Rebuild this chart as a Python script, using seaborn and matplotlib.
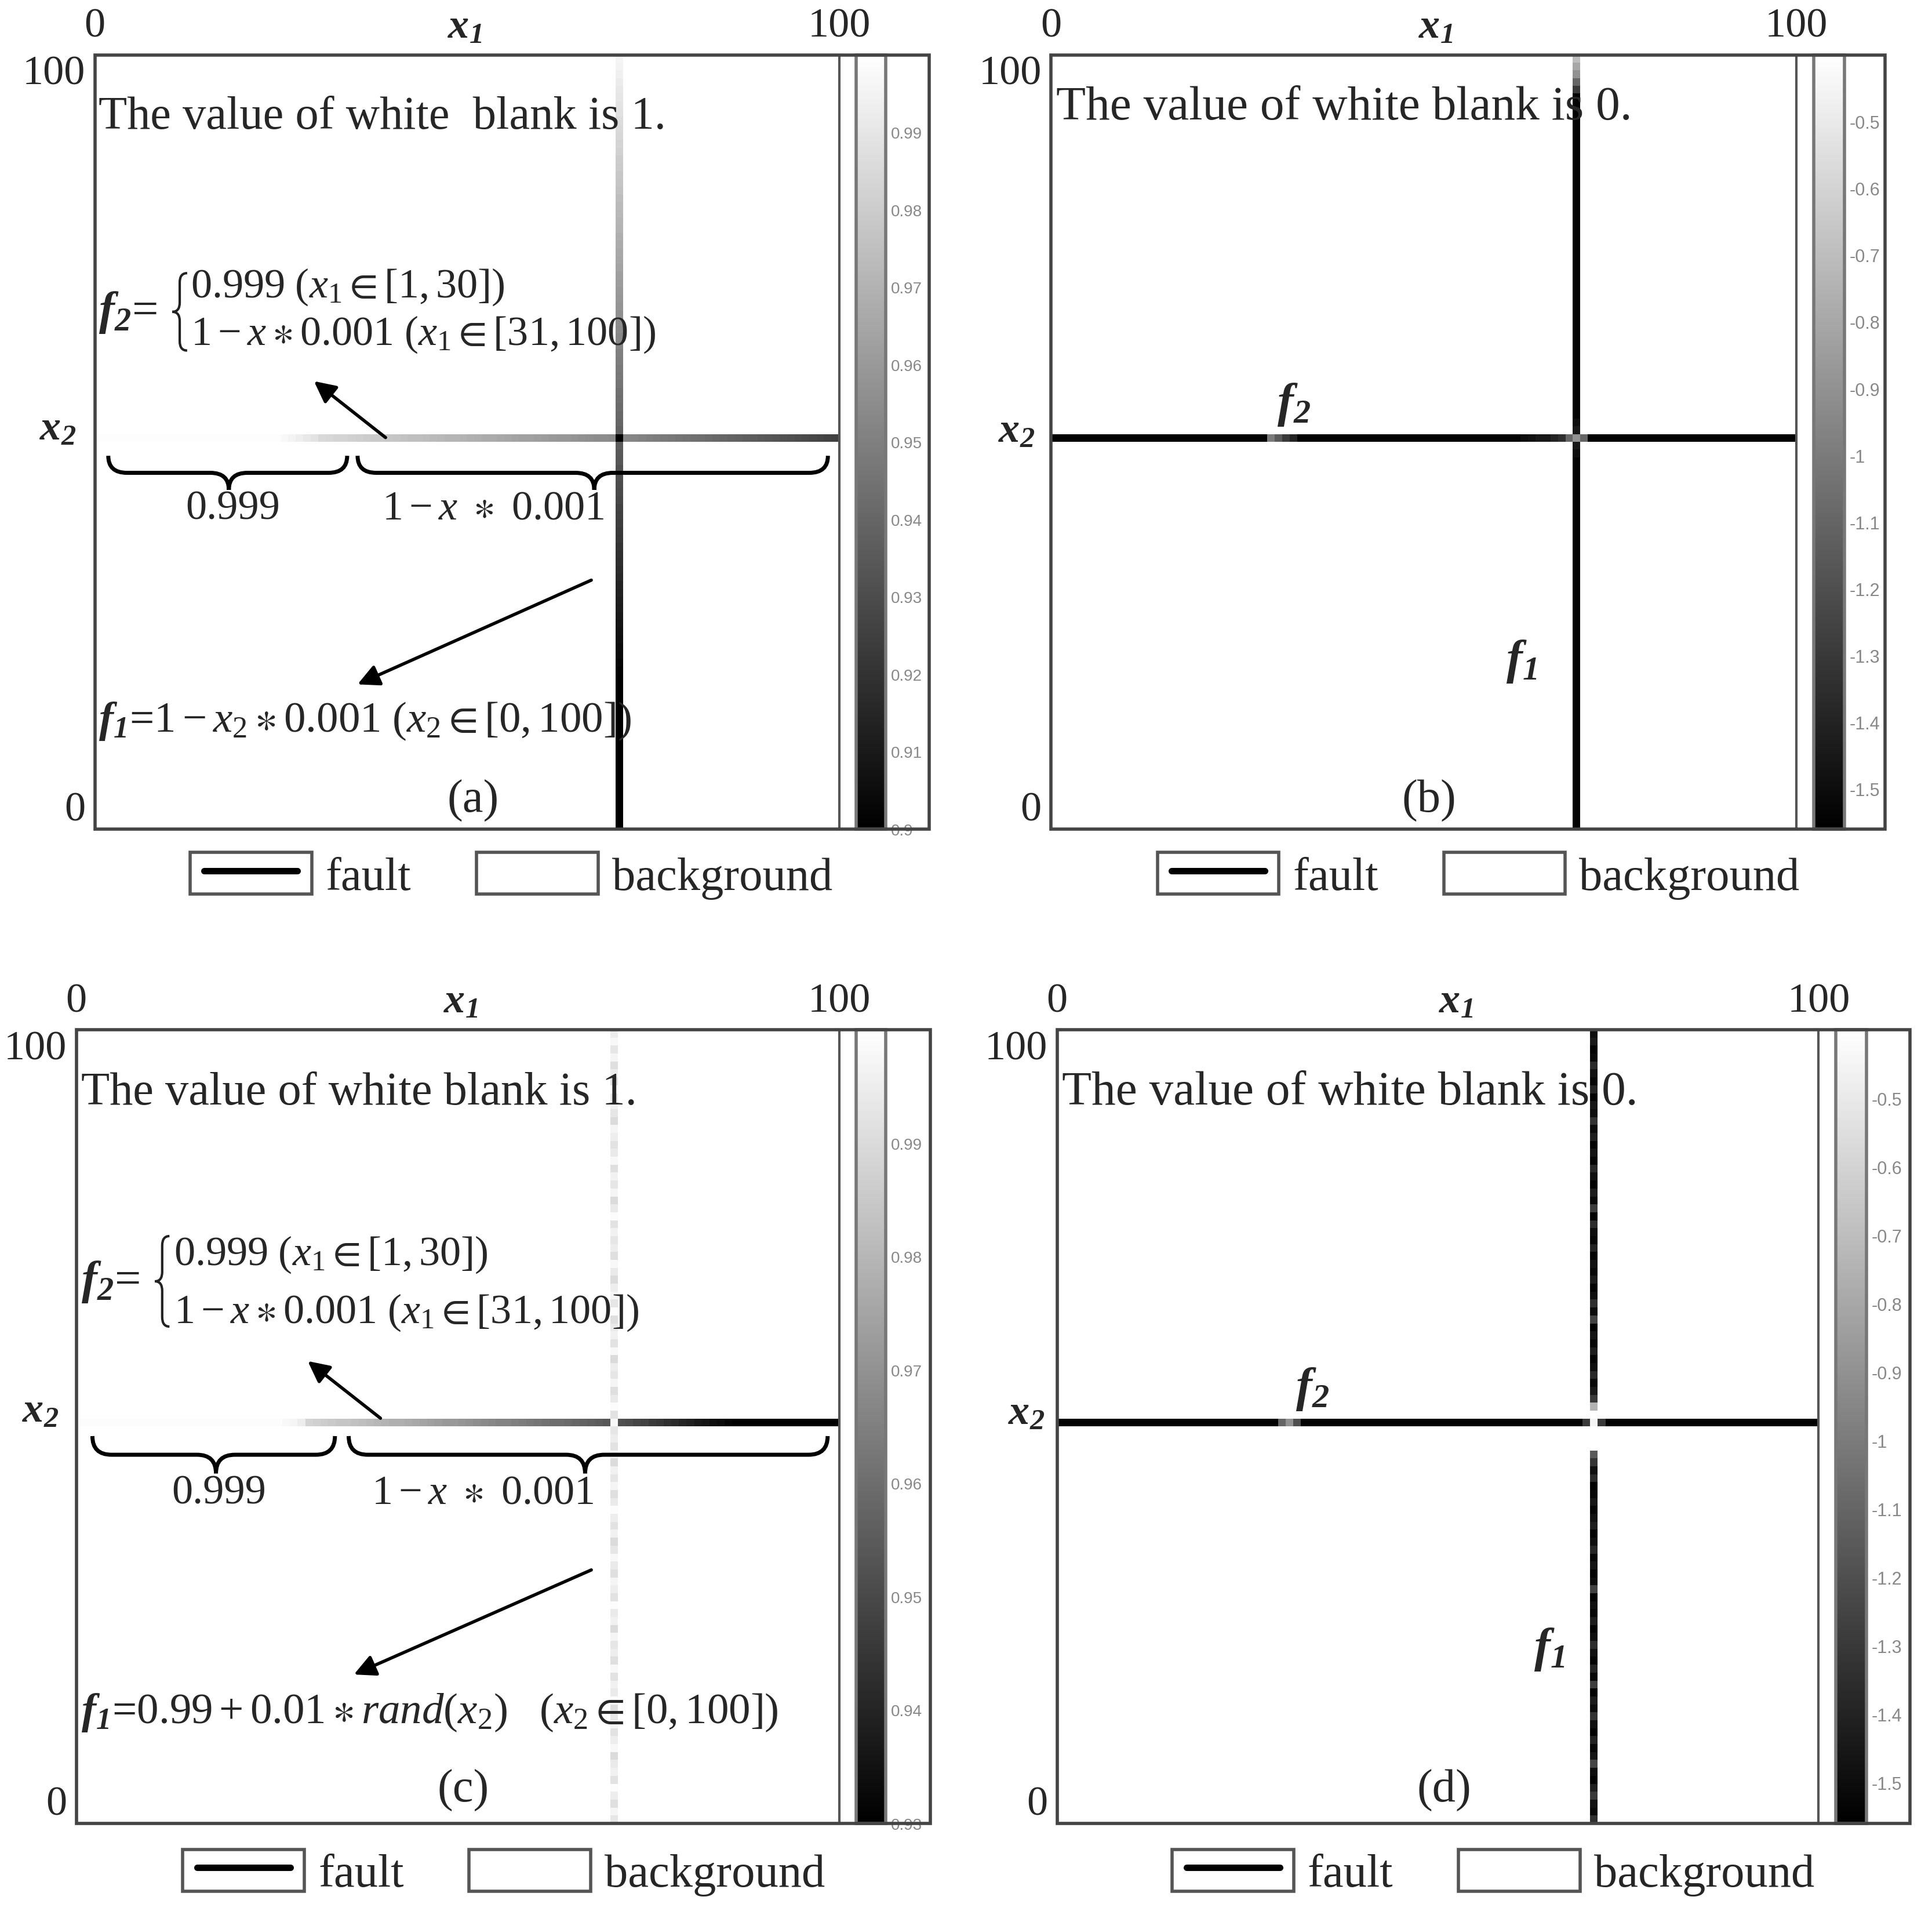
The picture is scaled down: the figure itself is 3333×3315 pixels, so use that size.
import numpy as np
import pandas as pd
import seaborn as sns
import matplotlib.pyplot as plt
from matplotlib.patches import Rectangle, PathPatch
from matplotlib.path import Path
from matplotlib.lines import Line2D
from matplotlib.ticker import FormatStrFormatter

# ---- data ----
n_cells = 100
fault_col = 70   # x1 where the vertical fault f1 runs
fault_row = 50   # x2 where the horizontal fault f2 runs

# (a) white blank = 1
a_f1 = [0.900] * 20 + [
    0.901, 0.902, 0.904, 0.905, 0.906, 0.907, 0.908, 0.910, 0.911, 0.912,
    0.913, 0.914, 0.916, 0.917, 0.918, 0.919, 0.920, 0.922, 0.923, 0.924,
    0.925, 0.926, 0.928, 0.929, 0.930, 0.931, 0.932, 0.934, 0.935, 0.936,
    0.937, 0.938, 0.940, 0.941, 0.942, 0.943, 0.944, 0.946, 0.947, 0.948,
    0.949, 0.950, 0.952, 0.953, 0.954, 0.955, 0.956, 0.958, 0.959, 0.960,
    0.961, 0.962, 0.964, 0.965, 0.966, 0.967, 0.968, 0.970, 0.971, 0.972,
    0.973, 0.974, 0.976, 0.977, 0.978, 0.979, 0.980, 0.982, 0.983, 0.984,
    0.985, 0.986, 0.988, 0.989, 0.990, 0.991, 0.992, 0.994, 0.995, 0.996]
a_f2 = [0.999] * 25 + [0.997, 0.995, 0.993, 0.991, 0.989] + [
    0.985, 0.984, 0.983, 0.983, 0.982, 0.981, 0.980, 0.979, 0.979, 0.978,
    0.977, 0.976, 0.975, 0.975, 0.974, 0.973, 0.972, 0.971, 0.971, 0.970,
    0.969, 0.968, 0.967, 0.967, 0.966, 0.965, 0.964, 0.963, 0.963, 0.962,
    0.961, 0.960, 0.959, 0.959, 0.958, 0.957, 0.956, 0.955, 0.955, 0.954,
    0.900, 0.953, 0.952, 0.951, 0.950, 0.949, 0.948, 0.947, 0.946, 0.945,
    0.944, 0.943, 0.942, 0.941, 0.940, 0.939, 0.938, 0.937, 0.936, 0.935,
    0.934, 0.933, 0.932, 0.931, 0.930, 0.929, 0.928, 0.927, 0.926, 0.925]

# (b) white blank = 0
b_f1 = [-1.55] * 48 + [-1.50, -1.45, -1.55, -1.45, -1.50] + [-1.55] * 42 + [-1.30, -1.10, -0.90, -0.80, -0.70]
b_f2 = [-1.55] * 29 + [-1.00, -1.15, -1.30, -1.40] + [-1.55] * 30 + [
    -1.50, -1.48, -1.45, -1.45, -1.40, -1.35, -1.10, -0.90, -1.10] + [-1.55] * 28

# (c) white blank = 1, f1 random in [0.99, 1]
c_f1 = [
    0.993, 0.997, 0.991, 0.995, 0.999, 0.992, 0.996, 0.994, 0.990, 0.998,
    0.995, 0.992, 0.997, 0.993, 0.991, 0.999, 0.994, 0.996, 0.992, 0.998,
    0.991, 0.995, 0.993, 0.997, 0.990, 0.996, 0.994, 0.999, 0.992, 0.995,
    0.997, 0.991, 0.994, 0.998, 0.993, 0.990, 0.996, 0.992, 0.995, 0.999,
    0.994, 0.991, 0.997, 0.993, 0.996, 0.990, 0.998, 0.992, 0.995, 0.993,
    0.996, 0.992, 0.999, 0.994, 0.991, 0.997, 0.993, 0.995, 0.990, 0.998,
    0.992, 0.996, 0.994, 0.991, 0.999, 0.993, 0.997, 0.995, 0.990, 0.994,
    0.998, 0.991, 0.995, 0.993, 0.996, 0.992, 0.999, 0.994, 0.990, 0.997,
    0.993, 0.996, 0.991, 0.998, 0.994, 0.992, 0.995, 0.997, 0.990, 0.993,
    0.996, 0.994, 0.999, 0.992, 0.995, 0.991, 0.997, 0.993, 0.998, 0.995]
c_f2 = [0.999] * 27 + [0.998, 0.997, 0.995] + [
    0.988, 0.987, 0.986, 0.985, 0.984, 0.984, 0.983, 0.982, 0.981, 0.980,
    0.979, 0.978, 0.978, 0.977, 0.976, 0.975, 0.974, 0.973, 0.972, 0.972,
    0.971, 0.970, 0.969, 0.968, 0.967, 0.966, 0.966, 0.965, 0.964, 0.963,
    0.962, 0.961, 0.960, 0.960, 0.959, 0.958, 0.957, 0.956, 0.955, 0.954,
    0.998, 0.952, 0.951, 0.949, 0.948, 0.946, 0.945, 0.943, 0.942, 0.940,
    0.939, 0.937, 0.936, 0.934, 0.933, 0.931, 0.930, 0.928, 0.927, 0.925,
    0.924, 0.922, 0.921, 0.919, 0.918, 0.916, 0.915, 0.913, 0.912, 0.910]

# (d) white blank = 0, f1 random
d_f1 = [
    -1.35, -1.52, -1.48, -1.30, -1.42, -1.55, -1.50, -1.25, -1.46, -1.53,
    -1.41, -1.55, -1.49, -1.33, -1.51, -1.44, -1.55, -1.28, -1.52, -1.40,
    -1.54, -1.48, -1.36, -1.50, -1.55, -1.43, -1.53, -1.49, -1.55, -1.27,
    -1.51, -1.55, -1.47, -1.53, -1.39, -1.50, -1.55, -1.42, -1.48, -1.54,
    -1.46, -1.52, -1.55, -1.37, -1.49, -1.32, -1.15, 0.00, 0.00, 0.00,
    -1.55, 0.00, -0.75, -1.30, -1.45, -1.52, -1.38, -1.50, -1.55, -1.43,
    -1.53, -1.47, -1.55, -1.26, -1.51, -1.35, -1.49, -1.55, -1.44, -1.52,
    -1.48, -1.55, -1.41, -1.53, -1.50, -1.36, -1.55, -1.29, -1.52, -1.43,
    -1.55, -1.49, -1.38, -1.54, -1.47, -1.55, -1.42, -1.51, -1.33, -1.50,
    -1.46, -1.55, -1.40, -1.53, -1.48, -1.37, -1.52, -1.55, -1.45, -1.50]
d_f2 = [-1.55] * 29 + [-1.10, -0.90, -1.20] + [-1.55] * 37 + [-1.30, -0.45, -1.30] + [-1.55] * 28

a_ticks = [0.90, 0.91, 0.92, 0.93, 0.94, 0.95, 0.96, 0.97, 0.98, 0.99]
c_ticks = [0.93, 0.94, 0.95, 0.96, 0.97, 0.98, 0.99]
bd_ticks = [-1.5, -1.4, -1.3, -1.2, -1.1, -1.0, -0.9, -0.8, -0.7, -0.6, -0.5]
legend_labels = ['fault', 'background']

# ---- style ----
sns.set_theme(style='white')
plt.rcParams['font.family'] = ['Liberation Serif', 'DejaVu Serif']
plt.rcParams['mathtext.fontset'] = 'custom'
plt.rcParams['mathtext.rm'] = 'Liberation Serif'
plt.rcParams['mathtext.it'] = 'Liberation Serif:italic'
plt.rcParams['mathtext.bf'] = 'Liberation Serif:italic:bold'
plt.rcParams['mathtext.fallback'] = 'stix'
plt.rcParams['axes.unicode_minus'] = False

TXT = 29
EQ = 26
TK = 26

W, H = 1568, 1560  # layout measured on the shrunk reference


def frac(l, r, t, b):
    return [l / W, 1 - b / H, (r - l) / W, (b - t) / H]


def make_grid(blank, f1, f2):
    grid = np.full((n_cells, n_cells), blank, dtype=float)
    grid[:, fault_col] = f1
    grid[fault_row, :] = f2
    return pd.DataFrame(grid[::-1], index=np.arange(n_cells)[::-1])


fig = plt.figure(figsize=(16.665, 16.58), dpi=200)


def draw_panel(heat, cbar_x, box_r, data, vmin, vmax, ticks, tsize, x1_pos, x2_pos):
    l, r, t, b = heat
    ax = fig.add_axes(frac(l, r, t, b))
    cax = fig.add_axes(frac(cbar_x[0], cbar_x[1], t, b))
    sns.heatmap(data, ax=ax, cbar_ax=cax, cmap='gray', vmin=vmin, vmax=vmax,
                xticklabels=False, yticklabels=False, cbar_kws={'ticks': ticks})
    for sp in ax.spines.values():
        sp.set_visible(True)
        sp.set_color('#555555')
        sp.set_linewidth(1.5)
    ax.xaxis.tick_top()
    ax.set_xticks([0, n_cells])
    ax.set_xticklabels(['0', '100'], fontsize=TK)
    ax.set_yticks([0, n_cells])
    ax.set_yticklabels(['100', '0'], fontsize=TK)
    ax.tick_params(length=0, pad=6)
    yl = ax.get_yticklabels()
    yl[0].set_va('top')
    yl[1].set_va('bottom')
    ax.text(x1_pos, 1.012, r'$\mathbf{x_1}$', transform=ax.transAxes,
            ha='center', va='bottom', fontsize=TK)
    ax.text(x2_pos[0], x2_pos[1], r'$\mathbf{x_2}$', transform=ax.transAxes,
            ha='right', va='center', fontsize=TK)

    cb = ax.collections[0].colorbar
    cb.outline.set_edgecolor('#777777')
    cb.outline.set_linewidth(2)
    cax.yaxis.set_major_formatter(FormatStrFormatter('%g'))
    cax.tick_params(direction='in', length=5, width=1, colors='#888888',
                    labelsize=tsize, pad=3)
    for lbl in cax.get_yticklabels():
        lbl.set_family('Liberation Sans')

    fig.add_artist(Rectangle((l / W, 1 - b / H), (box_r - l) / W, (b - t) / H,
                             transform=fig.transFigure, fill=False,
                             edgecolor='#444444', lw=2))
    return ax


def brace(ax, xa, xc, xb, ytop, depth, r=0.025):
    # horizontal curly brace, cusp pointing down
    ym = ytop - depth / 2
    yb = ytop - depth
    verts = [(xa, ytop), (xa, ym), (xa + r, ym), (xc - r, ym), (xc, ym), (xc, yb),
             (xc, ym), (xc + r, ym), (xb - r, ym), (xb, ym), (xb, ytop)]
    codes = [Path.MOVETO, Path.CURVE3, Path.CURVE3, Path.LINETO, Path.CURVE3, Path.CURVE3,
             Path.CURVE3, Path.CURVE3, Path.LINETO, Path.CURVE3, Path.CURVE3]
    ax.add_patch(PathPatch(Path(verts, codes), fill=False, lw=2.5, edgecolor='black',
                           transform=ax.transAxes, clip_on=False))


def vbrace(ax, xl, xr, ybot, ytop, r=0.012):
    # left curly brace "{" drawn as a thin path
    xm = (xl + xr) / 2
    ymid = (ybot + ytop) / 2
    verts = [(xr, ytop), (xm, ytop), (xm, ytop - r), (xm, ymid + r), (xm, ymid), (xl, ymid),
             (xm, ymid), (xm, ymid - r), (xm, ybot + r), (xm, ybot), (xr, ybot)]
    codes = [Path.MOVETO, Path.CURVE3, Path.CURVE3, Path.LINETO, Path.CURVE3, Path.CURVE3,
             Path.CURVE3, Path.CURVE3, Path.LINETO, Path.CURVE3, Path.CURVE3]
    ax.add_patch(PathPatch(Path(verts, codes), fill=False, lw=1.5, edgecolor='#222222',
                           transform=ax.transAxes, clip_on=False))


def arrow(ax, tail, head):
    ax.annotate('', xy=head, xytext=tail, xycoords='axes fraction',
                textcoords='axes fraction',
                arrowprops=dict(arrowstyle='-|>', lw=2, color='black', mutation_scale=28))


def add_legend(cx, cy):
    fault = (Rectangle((0, 0), 1, 1, facecolor='white', edgecolor='#555555', lw=2),
             Line2D([], [], color='black', lw=4))
    bg = Rectangle((0, 0), 1, 1, facecolor='white', edgecolor='#555555', lw=2)
    fig.legend([fault, bg], legend_labels, loc='center',
               bbox_to_anchor=(cx / W, 1 - cy / H), ncol=2, frameon=False,
               fontsize=TXT, handlelength=2.6, handleheight=1.0, numpoints=2,
               handletextpad=0.3, columnspacing=1.4)


def f2_block(ax, x0, xl, xr, xt, ybot, ytop, y1, y2):
    ax.text(x0, (ybot + ytop) / 2, r'$\mathbf{f_2}$=', transform=ax.transAxes, ha='left',
            va='center', fontsize=TXT)
    vbrace(ax, xl, xr, ybot, ytop)
    ax.text(xt, y1, r'$0.999\ (x_1 \in [1,30])$', transform=ax.transAxes,
            ha='left', va='center', fontsize=EQ)
    ax.text(xt, y2, r'$1 - x \ast 0.001\ (x_1 \in [31,100])$', transform=ax.transAxes,
            ha='left', va='center', fontsize=EQ)


# ---- (a) ----
ax_a = draw_panel((77, 681, 45, 673), (695, 719), 754, make_grid(1.0, a_f1, a_f2),
                  0.90, 1.0, a_ticks, 10, 0.497, (-0.025, 0.517))
ax_a.text(0.005, 0.920, 'The value of white  blank is 1.', transform=ax_a.transAxes,
          ha='left', va='center', fontsize=TXT)
f2_block(ax_a, 0.005, 0.104, 0.124, 0.129, 0.618, 0.718, 0.701, 0.639)
arrow(ax_a, (0.394, 0.503), (0.291, 0.581))
brace(ax_a, 0.018, 0.180, 0.339, 0.482, 0.044)
brace(ax_a, 0.353, 0.671, 0.985, 0.482, 0.044)
ax_a.text(0.185, 0.414, '0.999', transform=ax_a.transAxes, ha='center', va='center', fontsize=TK)
ax_a.text(0.535, 0.414, r'$1 - x\ \ast\ 0.001$', transform=ax_a.transAxes,
          ha='center', va='center', fontsize=TK)
arrow(ax_a, (0.671, 0.323), (0.349, 0.185))
ax_a.text(0.005, 0.140, r'$\mathbf{f_1}$=$1 - x_2 \ast 0.001\ (x_2 \in [0,100])$',
          transform=ax_a.transAxes, ha='left', va='center', fontsize=EQ + 1)
ax_a.text(0.508, 0.037, '(a)', transform=ax_a.transAxes, ha='center', va='center', fontsize=TXT)
add_legend(415, 711)

# ---- (b) ----
ax_b = draw_panel((853, 1458, 45, 673), (1472, 1497), 1530, make_grid(0.0, b_f1, b_f2),
                  -1.56, -0.40, bd_ticks, 11, 0.516, (-0.021, 0.514))
ax_b.text(0.007, 0.932, 'The value of white blank is 0.', transform=ax_b.transAxes,
          ha='left', va='center', fontsize=TXT + 1)
ax_b.text(0.326, 0.549, r'$\mathbf{f_2}$', transform=ax_b.transAxes, ha='center',
          va='center', fontsize=30)
ax_b.text(0.631, 0.217, r'$\mathbf{f_1}$', transform=ax_b.transAxes, ha='center',
          va='center', fontsize=30)
ax_b.text(0.507, 0.037, '(b)', transform=ax_b.transAxes, ha='center', va='center', fontsize=TXT)
add_legend(1200, 711)

# ---- (c) ----
ax_c = draw_panel((62, 681, 836, 1480), (695, 719), 755, make_grid(1.0, c_f1, c_f2),
                  0.93, 1.0, c_ticks, 10, 0.504, (-0.023, 0.520))
ax_c.text(0.006, 0.921, 'The value of white blank is 1.', transform=ax_c.transAxes,
          ha='left', va='center', fontsize=TXT)
f2_block(ax_c, 0.006, 0.103, 0.122, 0.128, 0.626, 0.740, 0.717, 0.644)
arrow(ax_c, (0.402, 0.508), (0.300, 0.585))
brace(ax_c, 0.021, 0.183, 0.339, 0.488, 0.047)
brace(ax_c, 0.357, 0.667, 0.985, 0.488, 0.047)
ax_c.text(0.187, 0.416, '0.999', transform=ax_c.transAxes, ha='center', va='center', fontsize=TK)
ax_c.text(0.533, 0.416, r'$1 - x\ \ast\ 0.001$', transform=ax_c.transAxes,
          ha='center', va='center', fontsize=TK)
arrow(ax_c, (0.679, 0.321), (0.360, 0.186))
ax_c.text(0.006, 0.140,
          r'$\mathbf{f_1}$=$0.99 + 0.01 \ast rand(x_2)\ \ \ (x_2 \in [0,100])$',
          transform=ax_c.transAxes, ha='left', va='center', fontsize=EQ + 1)
ax_c.text(0.507, 0.042, '(c)', transform=ax_c.transAxes, ha='center', va='center', fontsize=TXT)
add_legend(409, 1520)

# ---- (d) ----
ax_d = draw_panel((858, 1476, 836, 1480), (1490, 1515), 1550, make_grid(0.0, d_f1, d_f2),
                  -1.56, -0.40, bd_ticks, 11, 0.524, (-0.016, 0.517))
ax_d.text(0.006, 0.921, 'The value of white blank is 0.', transform=ax_d.transAxes,
          ha='left', va='center', fontsize=TXT + 1)
ax_d.text(0.335, 0.548, r'$\mathbf{f_2}$', transform=ax_d.transAxes, ha='center',
          va='center', fontsize=30)
ax_d.text(0.646, 0.220, r'$\mathbf{f_1}$', transform=ax_d.transAxes, ha='center',
          va='center', fontsize=30)
ax_d.text(0.508, 0.042, '(d)', transform=ax_d.transAxes, ha='center', va='center', fontsize=TXT)
add_legend(1212, 1520)

fig.savefig('out.png', dpi=200, facecolor='white')
